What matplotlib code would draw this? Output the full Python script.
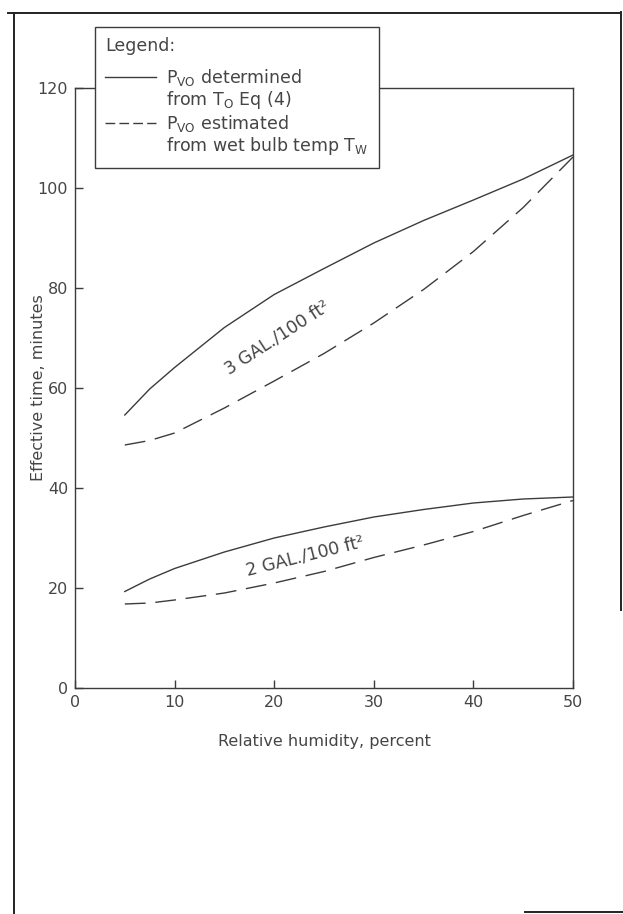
import matplotlib.pyplot as plt
from matplotlib.lines import Line2D

# Values
RH = [5, 7.5, 10, 15, 20, 25, 30, 35, 40, 45, 50]
GAL3_DETERMINED = [54.6, 59.8, 64.1, 72.1, 78.7, 83.9, 89.0, 93.5, 97.6, 101.8, 106.6]
GAL3_ESTIMATED  = [48.6, 49.5, 51.0, 56.0, 61.4, 66.9, 73.0, 79.7, 87.3, 96.1, 106.2]
GAL2_DETERMINED = [19.3, 21.8, 23.9, 27.2, 30.0, 32.2, 34.2, 35.7, 37.0, 37.8, 38.2]
GAL2_ESTIMATED  = [16.8, 17.0, 17.6, 19.0, 21.0, 23.3, 26.1, 28.6, 31.3, 34.5, 37.5]

X_TICKS = [0, 10, 20, 30, 40, 50]
Y_TICKS = [0, 20, 40, 60, 80, 100, 120]

INK  = "#3c3c3c"
TEXT = "#454545"
DASH = (15, 7)

plt.rcParams["font.family"] = ["DejaVu Sans"]

fig = plt.figure(figsize=(6.23, 9.14), dpi=100)
ax = fig.add_axes([75 / 623, 1 - 688 / 914, 498 / 623, 600 / 914])

ax.plot(RH, GAL3_DETERMINED, color=INK, lw=1.0)
ax.plot(RH, GAL3_ESTIMATED, color=INK, lw=1.0, dashes=DASH)
ax.plot(RH, GAL2_DETERMINED, color=INK, lw=1.0)
ax.plot(RH, GAL2_ESTIMATED, color=INK, lw=1.0, dashes=DASH)

ax.text(20.3, 70.0, "3 GAL./100 ft²", rotation=33, ha="center", va="center",
        fontsize=12.5, color=TEXT)
ax.text(23.1, 26.4, "2 GAL./100 ft²", rotation=14, ha="center", va="center",
        fontsize=12.5, color=TEXT)

ax.set_xlim(0, 50)
ax.set_ylim(0, 120)
ax.set_xticks(X_TICKS)
ax.set_yticks(Y_TICKS)
ax.tick_params(direction="in", length=6, width=1, color=INK,
               labelcolor=TEXT, labelsize=11.5, pad=5)
for sp in ["left", "right", "top", "bottom"]:
    ax.spines[sp].set_color(INK)
    ax.spines[sp].set_linewidth(1.0)

ax.set_xlabel("Relative humidity, percent", fontsize=11.5, color=TEXT, labelpad=17)
ax.set_ylabel("Effective time, minutes", fontsize=11.5, color=TEXT)
ax.yaxis.set_label_coords(-0.058, 0.5)

# legend box sits over the top spine, like the original
handles = [
    Line2D([], [], color=INK, lw=1.0),
    Line2D([], [], color="none"),
    Line2D([], [], color=INK, lw=1.0, dashes=(7, 3)),
    Line2D([], [], color="none"),
]
labels = [
    r"$\mathregular{P_{VO}}$ determined",
    r"from $\mathregular{T_O}$ Eq (4)",
    r"$\mathregular{P_{VO}}$ estimated",
    r"from wet bulb temp $\mathregular{T_W}$",
]
leg = ax.legend(handles, labels, title="Legend:\n", alignment="left",
                loc="upper left", bbox_to_anchor=(95 / 623, 1 - 27 / 914),
                bbox_transform=fig.transFigure, borderaxespad=0,
                fontsize=12.5, title_fontsize=12.5, handlelength=2.9,
                handletextpad=0.6, labelspacing=0.08, borderpad=0.6,
                fancybox=False, framealpha=1, edgecolor=INK,
                labelcolor=TEXT)
leg.get_title().set_color(TEXT)
leg.get_title().set_linespacing(0.45)
leg.get_frame().set_linewidth(1.0)

# page border from the scanned figure
border = dict(color="#222222", lw=1.4, transform=fig.transFigure)
fig.add_artist(Line2D([8 / 623, 620 / 623], [1 - 13 / 914, 1 - 13 / 914], **border))
fig.add_artist(Line2D([14 / 623, 14 / 623], [1 - 13 / 914, 0], **border))
fig.add_artist(Line2D([621 / 623, 621 / 623], [1 - 12 / 914, 1 - 610 / 914], **border))
fig.add_artist(Line2D([525 / 623, 1], [1 - 912 / 914, 1 - 912 / 914], **border))

fig.savefig("out.png", dpi=100)
